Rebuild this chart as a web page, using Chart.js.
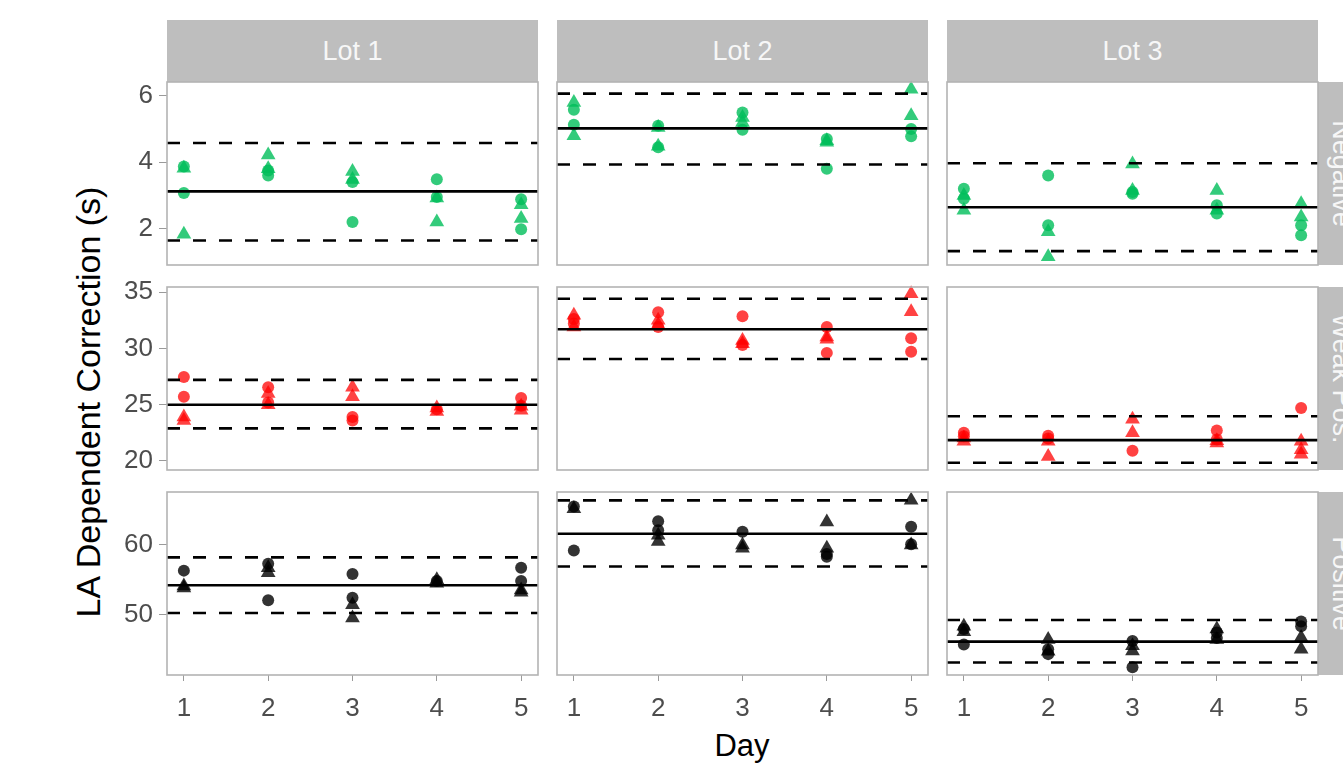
<!DOCTYPE html>
<html lang="en">
<head>
<meta charset="UTF-8">
<title>LA Dependent Correction by Day</title>
<script src="https://cdn.jsdelivr.net/npm/chart.js"></script>
<style>
  html, body { margin: 0; padding: 0; background: #fff; overflow: hidden; }
  body { width: 1343px; height: 781px; position: relative; font-family: "Liberation Sans", Arial, sans-serif; }
  .panel { position: absolute; }
  .strip { position: absolute; background: #bebebe; color: #f7f7f7; font-size: 27px;
           display: flex; align-items: center; justify-content: center; white-space: nowrap; }
  .side span { display: inline-block; transform: rotate(90deg); }
  .label { position: absolute; color: #000; white-space: nowrap; transform: translate(-50%, -50%); }
  #ytitle { font-size: 34px; transform: translate(-50%, -50%) rotate(-90deg); }
  #xtitle { font-size: 31px; }
</style>
</head>
<body>
<div id="ytitle" class="label" style="left:88px; top:402px;">LA Dependent Correction (s)</div>
<div id="xtitle" class="label" style="left:742px; top:746px;">Day</div>
<script>
// facets and axes
const days = [1, 2, 3, 4, 5];
const lotNames = ['Lot 1', 'Lot 2', 'Lot 3'];
const levelNames = ['Negative', 'Weak Pos.', 'Positive'];
const yTickVals = [[2, 4, 6], [20, 25, 30, 35], [50, 60]];
const yLimits = [[0.9, 6.42], [19.2, 35.45], [41.3, 67.6]];

// mean and limits, one row per level, one value per lot
const meanLine = [[3.12, 5.02, 2.64], [25.0, 31.7, 21.85], [54.2, 61.6, 46.1]];
const upperLimit = [[4.58, 6.07, 3.97], [27.2, 34.4, 23.97], [58.2, 66.4, 49.2]];
const lowerLimit = [[1.64, 3.93, 1.32], [22.9, 29.05, 19.85], [50.2, 56.9, 43.1]];

// observations: [lot][day] -> values
const negCircles = [
  [[3.87, 3.07], [3.6, 3.75], [3.4, 2.2], [3.49, 2.95], [2.88, 1.98]],
  [[5.58, 5.13], [5.1, 4.45], [5.5, 4.98], [4.7, 3.8], [5.0, 4.78]],
  [[3.2, 2.9], [3.6, 2.1], [3.05, 3.1], [2.7, 2.45], [2.1, 1.8]]
];
const negTriangles = [
  [[3.82, 1.83], [4.22, 3.8], [3.72, 3.48], [2.92, 2.2], [2.72, 2.3]],
  [[5.8, 4.8], [5.05, 4.48], [5.35, 5.2], [4.65, 4.6], [6.2, 5.4]],
  [[3.0, 2.55], [1.9, 1.15], [3.95, 3.15], [3.15, 2.55], [2.75, 2.35]]
];
const weakCircles = [
  [[27.45, 25.7], [26.55, 25.2], [23.9, 23.6], [24.6], [25.6, 24.9]],
  [[32.6, 32.2], [33.2, 31.9], [32.85, 30.3], [31.9, 29.6], [30.9, 29.7]],
  [[22.5, 22.2], [22.25, 22.0], [20.9], [22.7, 21.9], [24.7]]
];
const weakTriangles = [
  [[23.9, 23.6], [26.0, 25.0], [26.55, 25.7], [24.7, 24.4], [24.85, 24.5]],
  [[32.95, 31.9], [32.5, 32.1], [30.7, 30.4], [31.0, 30.8], [34.85, 33.25]],
  [[22.05, 21.75], [21.75, 20.4], [23.7, 22.5], [21.6, 21.8], [21.75, 21.0, 20.6]]
];
const posCircles = [
  [[56.3], [57.3, 52.05], [55.8, 52.4], [54.8], [56.7, 54.8]],
  [[65.5, 59.2], [63.4, 62.1], [61.9], [58.3, 58.7], [62.6, 60.1]],
  [[47.9, 45.7], [45.0, 44.3], [46.2, 42.4], [47.4, 46.6], [49.0, 48.3]]
];
const posTriangles = [
  [[54.1, 53.8], [56.7, 56.0], [51.4, 49.5], [55.0, 54.5], [53.5, 53.2]],
  [[65.2], [61.4, 60.5], [60.0, 59.5], [63.3, 59.5], [66.4, 60.0]],
  [[48.3, 47.5], [46.4, 44.7], [45.5, 44.75], [47.9, 46.4], [46.7, 45.0]]
];

const circleSets = [negCircles, weakCircles, posCircles];
const triangleSets = [negTriangles, weakTriangles, posTriangles];
const levelColors = ['rgba(0, 190, 90, 0.8)', 'rgba(255, 0, 0, 0.74)', 'rgba(0, 0, 0, 0.8)'];

// layout of the facet grid
const colLeft = [167, 557, 947];
const rowTop = [82, 287, 492];
const plotW = 371, plotH = 183;
const padX = 12, padY = 26, axisW = 70, axisH = 54;
const xMin = 0.8, xMax = 5.2;

// grey frame round every panel
const panelFrame = {
  id: 'panelFrame',
  afterDraw(chart) {
    const a = chart.chartArea, ctx = chart.ctx;
    ctx.save();
    ctx.strokeStyle = '#b3b3b3';
    ctx.lineWidth = 1.6;
    ctx.strokeRect(a.left, a.top, a.right - a.left, a.bottom - a.top);
    ctx.restore();
  }
};

function toPoints(perDay) {
  const pts = [];
  perDay.forEach((vals, d) => vals.forEach(v => pts.push({ x: days[d], y: v })));
  return pts;
}

function hLine(y, dashed) {
  return {
    type: 'line',
    data: [{ x: xMin, y: y }, { x: xMax, y: y }],
    borderColor: '#000',
    borderWidth: 2.6,
    borderDash: dashed ? [13, 13] : [],
    pointRadius: 0,
    order: 0
  };
}

function addStrip(cls, left, top, w, h, text) {
  const div = document.createElement('div');
  div.className = 'strip ' + cls;
  div.style.left = left + 'px';
  div.style.top = top + 'px';
  div.style.width = w + 'px';
  div.style.height = h + 'px';
  div.innerHTML = '<span></span>';
  div.firstChild.textContent = text;
  document.body.appendChild(div);
}

lotNames.forEach((name, c) => addStrip('top', colLeft[c], 20, plotW, rowTop[0] - 20, name));
levelNames.forEach((name, r) => addStrip('side', 1318, rowTop[r], 46, plotH, name));

for (let r = 0; r < 3; r++) {
  for (let c = 0; c < 3; c++) {
    const showY = c === 0, showX = r === 2;
    const leftExtra = showY ? axisW : padX;
    const bottomExtra = showX ? axisH : padY;
    const box = document.createElement('div');
    box.className = 'panel';
    box.style.left = (colLeft[c] - leftExtra) + 'px';
    box.style.top = (rowTop[r] - padY) + 'px';
    box.style.width = (plotW + leftExtra + padX) + 'px';
    box.style.height = (plotH + padY + bottomExtra) + 'px';
    const canvas = document.createElement('canvas');
    box.appendChild(canvas);
    document.body.appendChild(box);

    const color = levelColors[r];
    new Chart(canvas, {
      type: 'scatter',
      data: {
        datasets: [
          hLine(upperLimit[r][c], true),
          hLine(meanLine[r][c], false),
          hLine(lowerLimit[r][c], true),
          {
            data: toPoints(circleSets[r][c]),
            pointStyle: 'circle',
            pointRadius: 6,
            backgroundColor: color,
            borderWidth: 0,
            clip: false,
            order: 1
          },
          {
            data: toPoints(triangleSets[r][c]),
            pointStyle: 'triangle',
            pointRadius: 8.5,
            backgroundColor: color,
            borderWidth: 0,
            clip: false,
            order: 1
          }
        ]
      },
      options: {
        responsive: true,
        maintainAspectRatio: false,
        animation: false,
        devicePixelRatio: 1,
        events: [],
        layout: { padding: { top: padY, right: padX, left: showY ? 0 : padX, bottom: showX ? 0 : padY } },
        plugins: { legend: { display: false }, tooltip: { enabled: false } },
        scales: {
          x: {
            type: 'linear',
            min: xMin,
            max: xMax,
            display: showX,
            afterBuildTicks: s => { s.ticks = days.map(v => ({ value: v })); },
            afterFit: s => { if (showX) s.height = axisH; },
            grid: { drawOnChartArea: false, drawTicks: true, tickLength: 6, color: '#9a9a9a' },
            border: { display: false },
            ticks: { color: '#4d4d4d', font: { size: 26, family: 'Liberation Sans' }, padding: 12, maxRotation: 0 }
          },
          y: {
            type: 'linear',
            min: yLimits[r][0],
            max: yLimits[r][1],
            display: showY,
            afterBuildTicks: s => { s.ticks = yTickVals[r].map(v => ({ value: v })); },
            afterFit: s => { if (showY) s.width = axisW; },
            grid: { drawOnChartArea: false, drawTicks: true, tickLength: 8, color: '#9a9a9a' },
            border: { display: false },
            ticks: { color: '#4d4d4d', font: { size: 26, family: 'Liberation Sans' }, padding: 6 }
          }
        }
      },
      plugins: [panelFrame]
    });
  }
}
</script>
</body>
</html>
